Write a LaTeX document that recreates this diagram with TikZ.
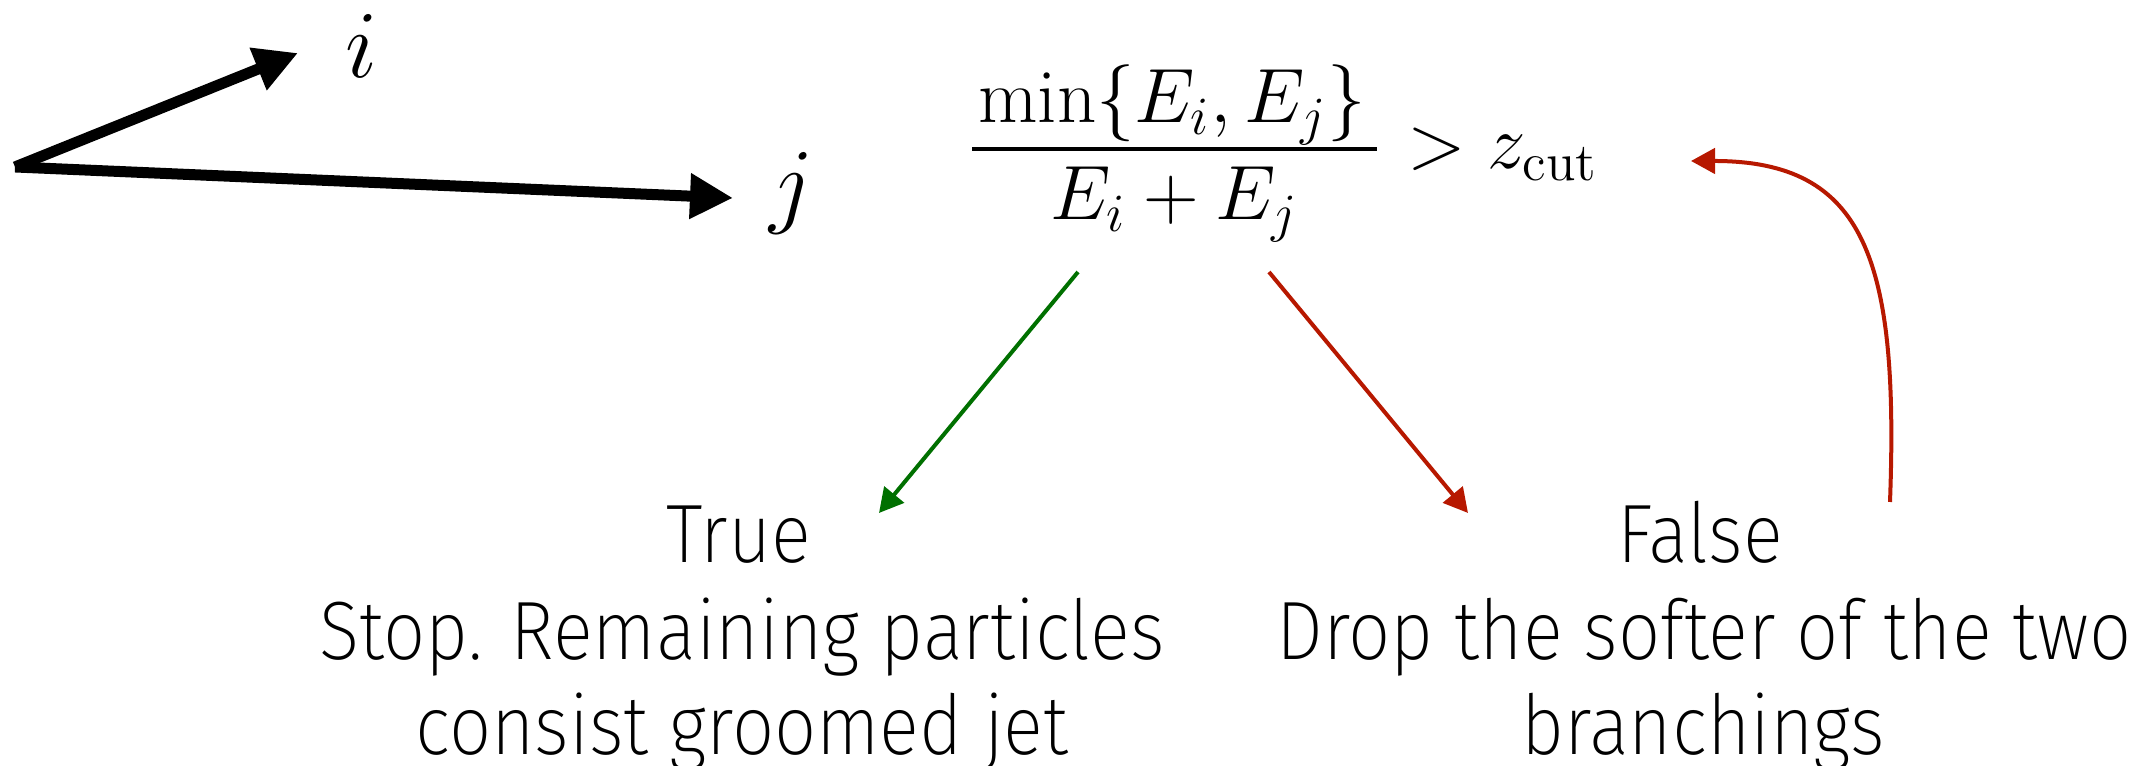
\RequirePackage{fix-cm}
\documentclass[tikz,border=0pt]{standalone}
\usepackage{fontspec}
\newfontfamily\lightsans{Fira Sans ExtraLight}[FakeStretch=0.9]
\usetikzlibrary{arrows.meta}
\definecolor{okgreen}{RGB}{0,112,0}
\definecolor{nored}{RGB}{183,24,0}
\begin{document}
\begin{tikzpicture}[x=0.25pt,y=-0.25pt,
  lbl/.style={inner sep=0pt, font=\fontsize{24}{28}\selectfont},
  mth/.style={inner sep=0pt, anchor=base, font=\fontsize{19.25}{23}\selectfont},
  txt/.style={inner sep=0pt, anchor=base, font=\lightsans\fontsize{20.7}{24}\selectfont},
  vec/.style={line width=2.75pt, -{Triangle[length=10.75pt,width=10.75pt]}},
  flow/.style={line width=1pt, -{Triangle[length=6pt,width=6.3pt]}}]
\useasboundingbox (0,0) rectangle (2134,766);
% momentum vectors
\coordinate (o) at (15,167);
\coordinate (ti) at (298,53);
\coordinate (tj) at (733,198);
\draw[vec] (o) -- (ti);
\draw[vec] (o) -- (tj);
\node[lbl] (li) at (362,46.5) {$i$};
\node[lbl] (lj) at (792,193) {$j$};
% criterion
\node[mth] (num) at (1172,123) {$\min\{E_i, E_j\}$};
\coordinate (barL) at (972,149);
\coordinate (barR) at (1377,149);
\draw[line width=0.77pt] (barL) -- (barR);
\node[mth] (den) at (1174.5,220) {$E_i + E_j$};
\node[mth, anchor=base west] (rel) at (1407,169) {$> z_{\mathrm{cut}}$};
% outcomes
\node[txt] (trueL) at (739,563) {True};
\node[txt] (stopL) at (742,660) {Stop. Remaining particles};
\node[txt] (consL) at (742,755) {consist groomed jet};
\node[txt] (falseL) at (1700,563) {False};
\node[txt] (dropL) at (1704,660) {Drop the softer of the two};
\node[txt] (branchL) at (1703,755) {branchings};
% flow arrows
\coordinate (gs) at (1078,272);
\coordinate (ge) at (879,513);
\coordinate (rs) at (1269,272);
\coordinate (re) at (1468,513);
\coordinate (cs) at (1890,502);
\coordinate (ce) at (1691,161);
\draw[flow, okgreen] (gs) -- (ge);
\draw[flow, nored] (rs) -- (re);
\draw[flow, nored] (cs) .. controls (1899,259) and (1865,161) .. (ce);
\end{tikzpicture}
\end{document}
